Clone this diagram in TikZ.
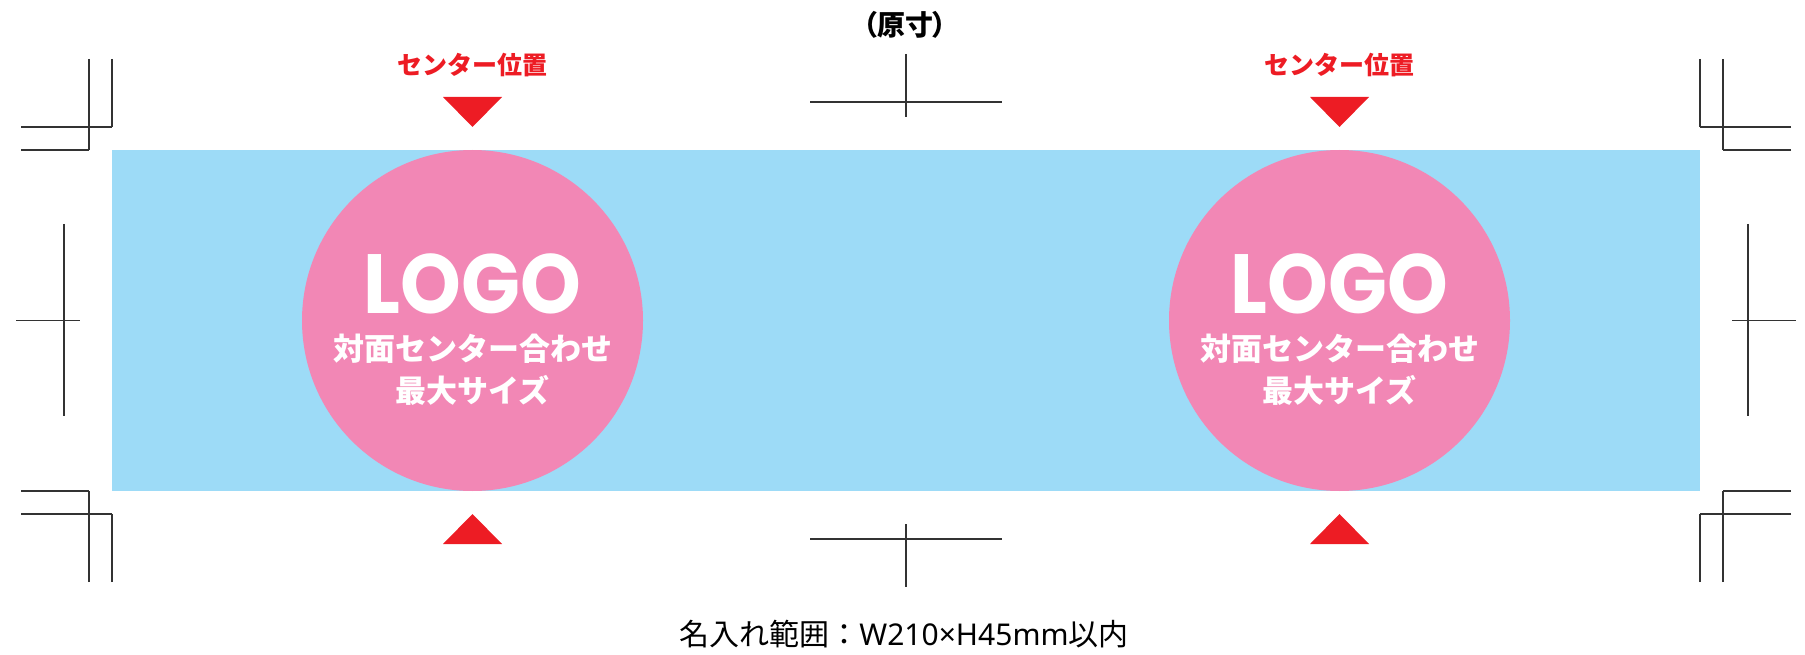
\documentclass[tikz,border=0pt]{standalone}
\usepackage{fontspec}
\newfontfamily\jp{Noto Sans CJK JP}
\newfontfamily\jpp{Noto Sans CJK JP}[RawFeature=+palt]
\newfontfamily\latn{Noto Sans}
\newfontfamily\logofont{Poppins}[FakeStretch=0.92]
\definecolor{bandblue}{HTML}{9DDBF7}
\definecolor{logopink}{HTML}{F287B5}
\definecolor{markred}{HTML}{ED1C24}
\tikzset{
  cropline/.style={line width=1.2pt, black!80},
  logocircle/.style={circle, fill=logopink, minimum size=341pt, inner sep=0pt},
  logotext/.style={text=white, font=\logofont\bfseries\fontsize{84}{84}\selectfont, inner sep=0pt},
  subtext/.style={text=white, font=\jp\bfseries\fontsize{31}{31}\selectfont, inner sep=0pt},
  redlabel/.style={text=markred, font=\jp\bfseries\fontsize{25}{25}\selectfont, inner sep=0pt},
  marktri/.style={fill=markred},
}
\begin{document}
\begin{tikzpicture}[x=1pt,y=-1pt]
\useasboundingbox (0,0) rectangle (1805,655);
% band
\fill[bandblue] (112,150) rectangle (1700,491);
% circles
\node[logocircle] (c1) at (472.5,320.5) {};
\node[logocircle] (c2) at (1339.5,320.5) {};
\foreach \cx/\nm in {472.5/a,1339.5/b}{
  \node[logotext, anchor=base] (logo\nm) at (\cx,313) {LOGO};
  \node[subtext] (suba\nm) at (\cx,348.5) {対面センター合わせ};
  \node[subtext] (subb\nm) at (\cx,390.5) {最大サイズ};
  \node[redlabel] (lab\nm) at (\cx,65) {センター位置};
  \fill[marktri] (\cx-29.5,97) -- (\cx+29.5,97) -- (\cx,127) -- cycle;
  \fill[marktri] (\cx-29.5,544) -- (\cx+29.5,544) -- (\cx,514) -- cycle;
}
% title and caption
\node[font=\jpp\bfseries\fontsize{28}{28}\selectfont, inner sep=0pt] (title) at (905,25) {（原寸）};
\node[font=\jp\fontsize{30}{30}\selectfont, inner sep=0pt] (caption) at (904,634) {名入れ範囲：{\latn W210×H45mm}以内};
% corner crop marks
\foreach \sx/\sy in {1/1,-1/1,1/-1,-1/-1}{
  \begin{scope}[shift={(906,320.5)}, xscale=\sx, yscale=\sy]
    \draw[cropline] (-817,-261.5) -- (-817,-170.5);
    \draw[cropline] (-794,-261.5) -- (-794,-193.5);
    \draw[cropline] (-885,-193.5) -- (-794,-193.5);
    \draw[cropline] (-885,-170.5) -- (-817,-170.5);
  \end{scope}
}
% center marks
\draw[cropline] (906,54) -- (906,117);
\draw[cropline] (810,102) -- (1002,102);
\draw[cropline] (906,524) -- (906,587);
\draw[cropline] (810,539) -- (1002,539);
\draw[cropline] (64,224) -- (64,416);
\draw[cropline] (16,320.5) -- (80,320.5);
\draw[cropline] (1748,224) -- (1748,416);
\draw[cropline] (1732,320.5) -- (1796,320.5);
\end{tikzpicture}
\end{document}
